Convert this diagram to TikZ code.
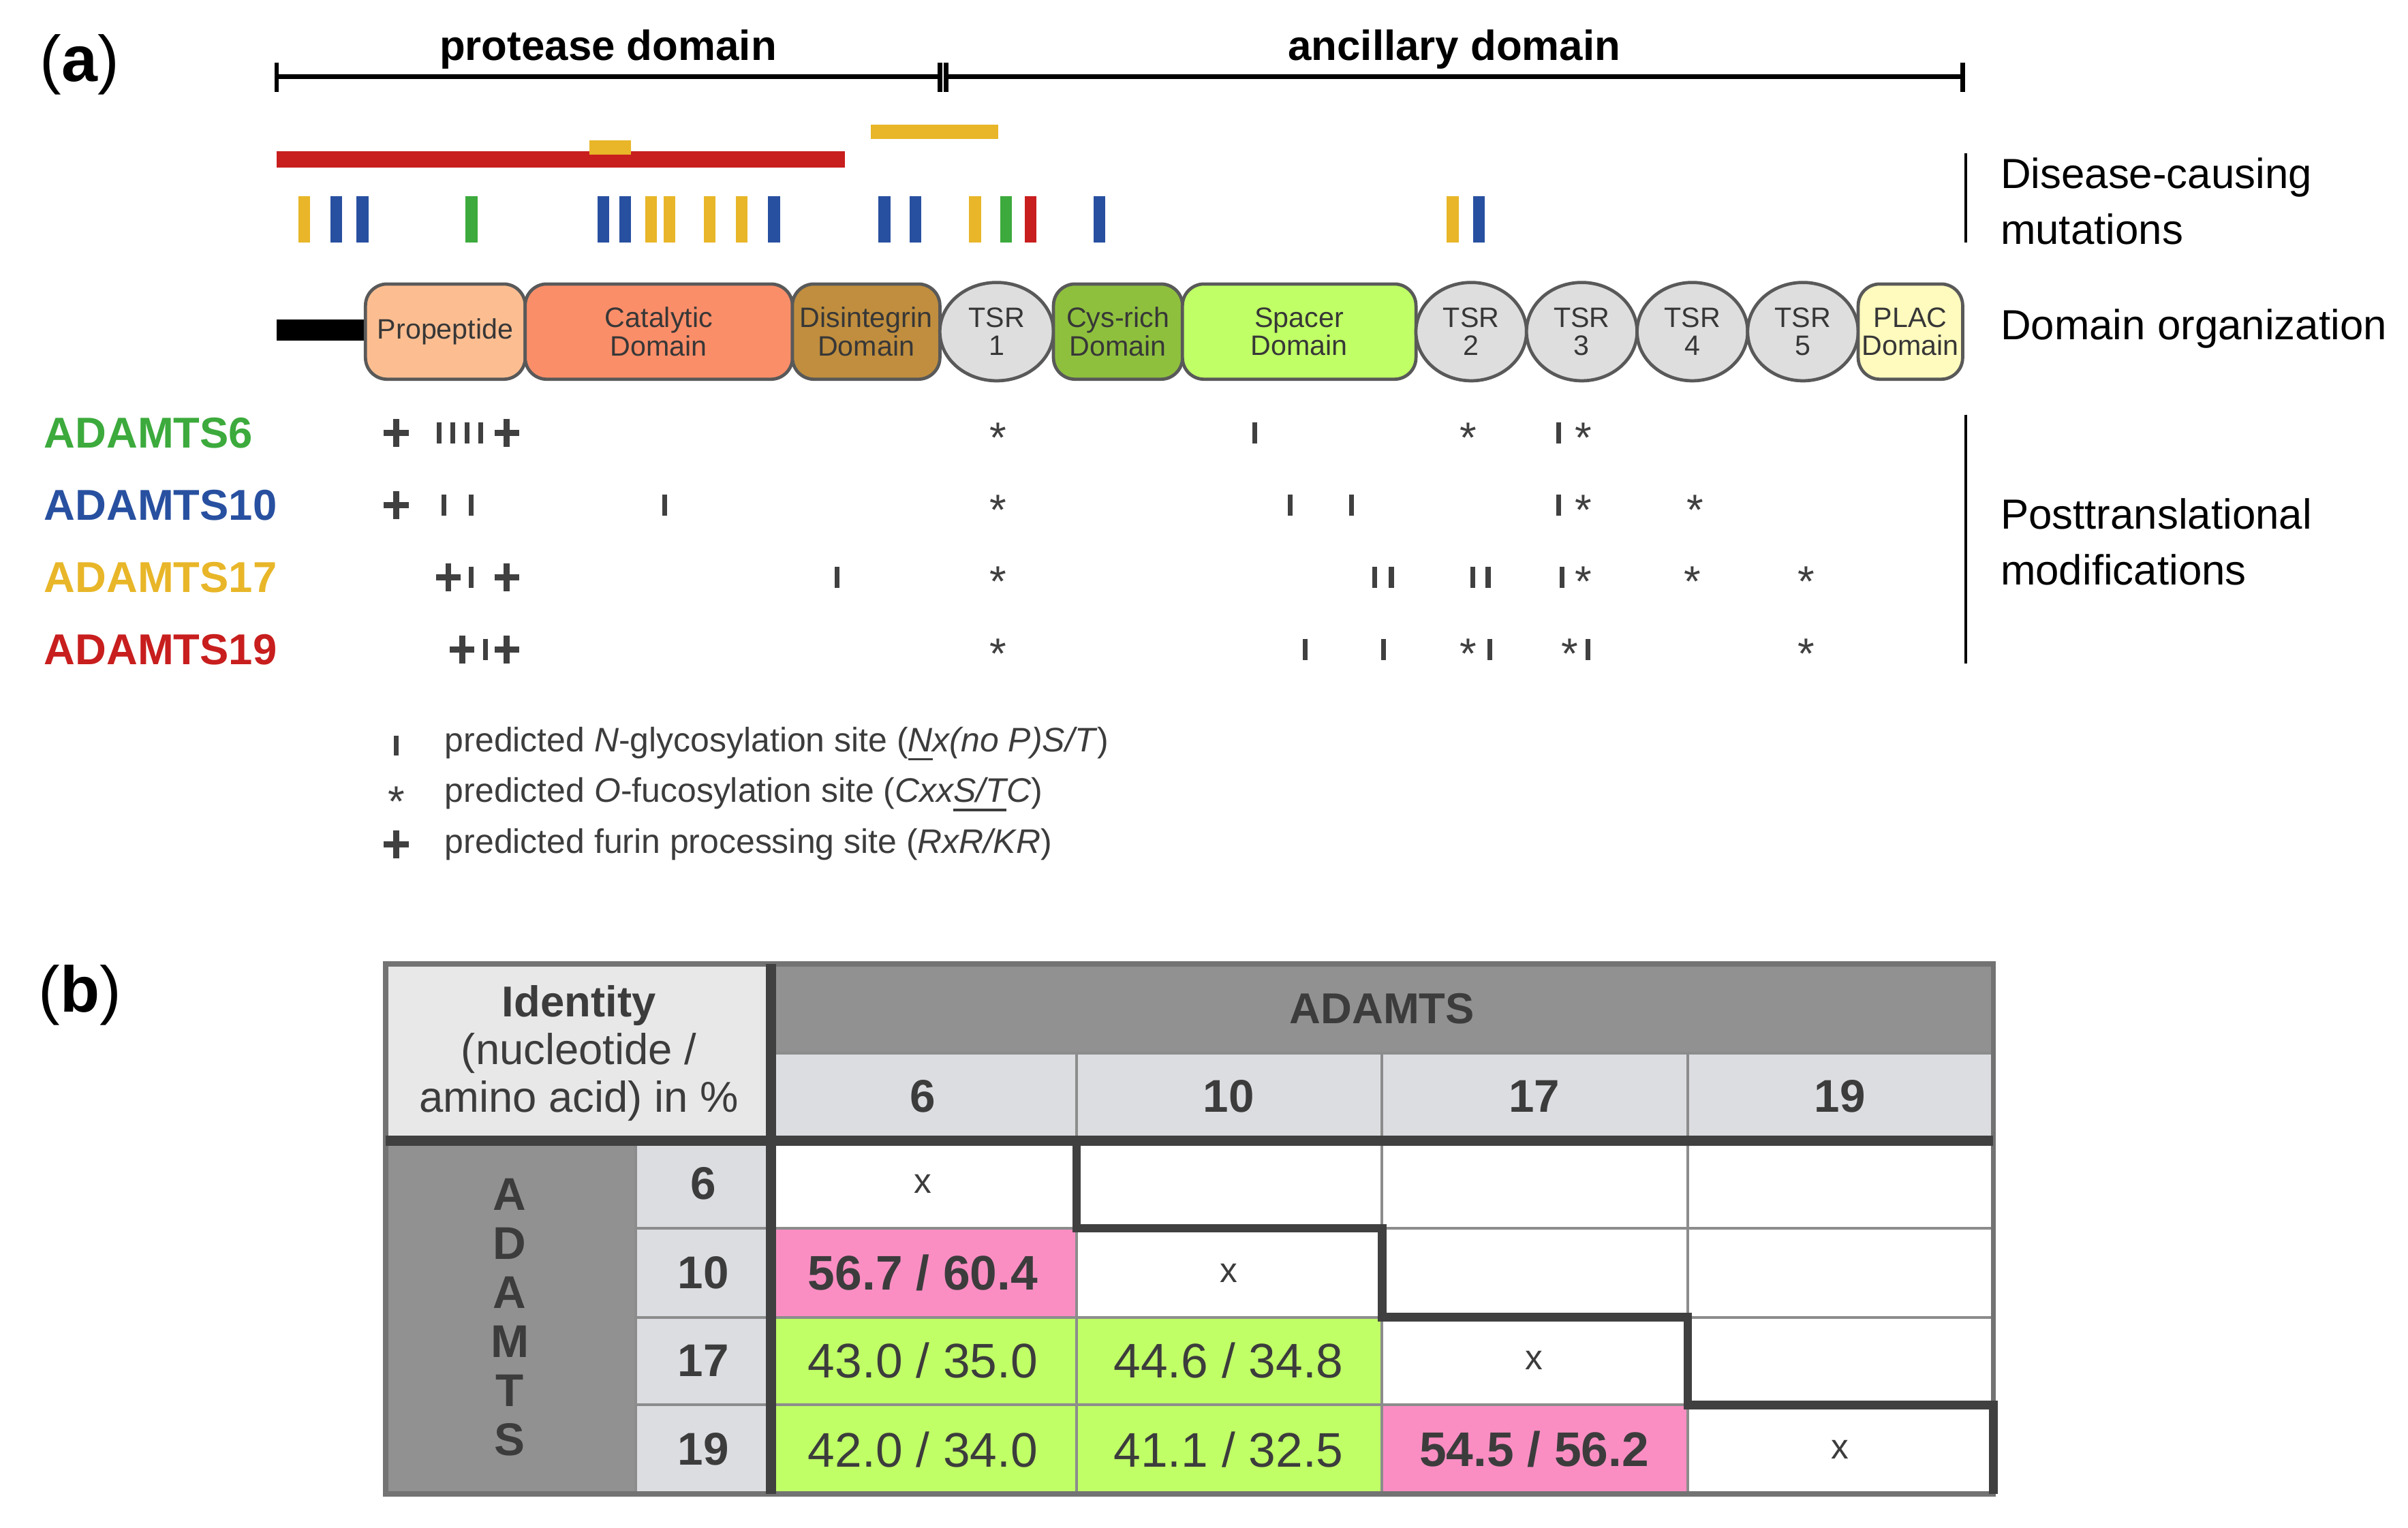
\documentclass[tikz,border=0pt]{standalone}
\usepackage{fontspec}
\setmainfont{Liberation Sans}
\usetikzlibrary{shapes.geometric}
\definecolor{tgray}{RGB}{55,55,55}
\definecolor{mY}{RGB}{232,182,40}
\definecolor{mB}{RGB}{40,80,160}
\definecolor{mG}{RGB}{60,170,60}
\definecolor{mR}{RGB}{200,30,30}
\definecolor{cProp}{RGB}{252,190,145}
\definecolor{cCat}{RGB}{250,142,105}
\definecolor{cDis}{RGB}{192,142,62}
\definecolor{cTSR}{RGB}{222,222,222}
\definecolor{cCys}{RGB}{142,192,62}
\definecolor{cSpa}{RGB}{192,255,102}
\definecolor{cPlac}{RGB}{255,250,190}
\definecolor{cPink}{RGB}{250,142,195}
\definecolor{cDark}{RGB}{145,145,145}
\definecolor{cLight}{RGB}{220,221,225}
\definecolor{cTop}{RGB}{232,232,232}
\definecolor{ttxt}{RGB}{60,60,60}
\newcommand{\fs}[1]{\fontsize{#1}{#1}\selectfont}
\tikzset{
 dom/.style={draw=black!65, line width=0.6pt, rounded corners=4pt, inner sep=0pt, align=center, text=tgray, font=\fs{5.2}, minimum height=0.62cm},
 tsr/.style={draw=black!65, line width=0.6pt, ellipse, inner sep=0pt, align=center, text=tgray, font=\fs{5.2}, minimum height=0.64cm, minimum width=0.74cm, fill=cTSR},
 mut/.style={line width=2.2pt},
 tk/.style={line width=0.9pt, black!75},
 ast/.style={inner sep=0pt, font=\fs{8}, text=black!75},
 lab/.style={anchor=west, inner sep=0pt, font=\fs{7.8}},
 gname/.style={anchor=west, inner sep=0pt, font=\fs{8}\bfseries},
 leg/.style={anchor=west, inner sep=0pt, font=\fs{6.3}, text=ttxt},
 cell/.style={inner sep=0pt, text=ttxt, align=center},
}
\begin{document}
\begin{tikzpicture}[x=0.01cm,y=-0.01cm]
\useasboundingbox (0,0) rectangle (1568,995);
\node[inner sep=0pt, font=\fs{12}] (la) at (52,42) {(\textbf{a})};
\node[inner sep=0pt, font=\fs{12}] (lb) at (52,648) {(\textbf{b})};
\draw[line width=0.8pt] (180,50) -- (612,50) (180,41) -- (180,60) (612,41) -- (612,60);
\draw[line width=0.8pt] (616,50) -- (1278,50) (616,41) -- (616,60) (1278,41) -- (1278,60);
\node[inner sep=0pt, font=\fs{7.8}\bfseries] (pd) at (396,32) {protease domain};
\node[inner sep=0pt, font=\fs{7.8}\bfseries] (ad) at (947,32) {ancillary domain};
\draw[mR, line width=3pt] (180,104) -- (550,104);
\draw[mY, line width=2.6pt] (384,96) -- (411,96);
\draw[mY, line width=2.6pt] (567,86) -- (650,86);
\foreach \x/\c in {198/mY,219/mB,236/mB,307/mG,393/mB,407/mB,424/mY,436/mY,462/mY,483/mY,504/mB,576/mB,596/mB,635/mY,655/mG,671/mR,716/mB,946/mY,963/mB}
  \draw[mut,\c] (\x,128) -- (\x,158);
\draw[line width=4pt] (180,215) -- (238,215);
\node[dom, fill=cProp, minimum width=1.04cm] (prop) at (290,216) {Propeptide};
\node[dom, fill=cCat, minimum width=1.74cm] (cat) at (429,216) {Catalytic\\Domain};
\node[dom, fill=cDis, minimum width=0.96cm] (dis) at (564,216) {Disintegrin\\Domain};
\node[tsr] (t1) at (649,216) {TSR\\1};
\node[dom, fill=cCys, minimum width=0.84cm] (cys) at (728,216) {Cys-rich\\Domain};
\node[dom, fill=cSpa, minimum width=1.52cm] (spa) at (846,216) {Spacer\\Domain};
\node[tsr, minimum width=0.72cm] (t2) at (958,216) {TSR\\2};
\node[tsr, minimum width=0.72cm] (t3) at (1030,216) {TSR\\3};
\node[tsr, minimum width=0.72cm] (t4) at (1102,216) {TSR\\4};
\node[tsr, minimum width=0.72cm] (t5) at (1174,216) {TSR\\5};
\node[dom, fill=cPlac, minimum width=0.68cm] (plac) at (1244,216) {PLAC\\Domain};
\draw[line width=0.6pt] (1280,100) -- (1280,158);
\draw[line width=0.6pt] (1280,270) -- (1280,432);
\node[lab, align=left] (dcm) at (1302,131) {Disease-causing\\[2.5pt]mutations};
\node[lab] (dorg) at (1302,214) {Domain organization};
\node[lab, align=left] (ptm) at (1302,353) {Posttranslational\\[2.5pt]modifications};
\node[gname, text=mG] (g6) at (28,282) {ADAMTS6};
\node[gname, text=mB] (g10) at (28,329) {ADAMTS10};
\node[gname, text=mY] (g17) at (28,376) {ADAMTS17};
\node[gname, text=mR] (g19) at (28,423) {ADAMTS19};
\foreach \y/\pl/\tl/\al in {
 282/{258,330}/{286,295,304,313,817,1015}/{650,956,1031},
 329/{258}/{289,307,433,840,880,1015}/{650,1031,1104},
 376/{292,330}/{307,545,895,906,959,969,1017}/{650,1031,1102,1176},
 423/{301,330}/{316,850,901,970,1034}/{650,956,1022,1176}}{
  \foreach \x in \pl {\draw[tk, line width=1.1pt] (\x-8,\y) -- (\x+8,\y) (\x,\y-9) -- (\x,\y+9);}
  \foreach \x in \tl {\draw[tk] (\x,\y-7) -- (\x,\y+7);}
  \foreach \x in \al {\node[ast] at (\x,\y+3) {*};}
}
\draw[tk] (258,479) -- (258,492);
\node[ast] (la1) at (258,522) {*};
\draw[tk, line width=1.1pt] (250,550) -- (266,550) (258,541) -- (258,559);
\node[leg] (l1) at (289,485) {predicted \textit{N}-glycosylation site (\textit{\underline{N}x(no P)S/T})};
\node[leg] (l2) at (289,518) {predicted \textit{O}-fucosylation site (\textit{Cxx\underline{S/T}C})};
\node[leg] (l3) at (289,550) {predicted furin processing site (\textit{RxR/KR})};
\fill[cTop] (251,628) rectangle (502,743);
\fill[cDark] (502,628) rectangle (1298,686);
\fill[cLight] (502,686) rectangle (1298,743);
\fill[cDark] (251,743) rectangle (414,973);
\fill[cLight] (414,743) rectangle (502,973);
\fill[cPink] (502,800) rectangle (701,858);
\fill[cSpa] (502,858) rectangle (900,973);
\fill[cPink] (900,915) rectangle (1099,973);
\draw[black!45, line width=0.5pt]
  (502,686) -- (1298,686)
  (701,686) -- (701,973) (900,686) -- (900,973) (1099,686) -- (1099,973)
  (414,800) -- (1298,800) (414,858) -- (1298,858) (414,915) -- (1298,915)
  (414,743) -- (414,973);
\draw[black!55, line width=1pt] (251,628) rectangle (1298,973);
\draw[black!75, line width=1.8pt] (251,743) -- (1298,743) (502,628) -- (502,973);
\draw[black!75, line width=1.6pt] (701,743) -- (701,800) -- (900,800) -- (900,858) -- (1099,858) -- (1099,915) -- (1298,915) -- (1298,973);
\node[cell, font=\fs{8}] (id) at (377,686) {\textbf{Identity}\\[0.8pt](nucleotide /\\[0.8pt]amino acid) in \%};
\node[cell, font=\fs{8}\bfseries] (adh) at (900,657) {ADAMTS};
\node[cell, font=\fs{8.5}\bfseries, align=center] (adv) at (332,858) {A\\[0.6pt]D\\[0.6pt]A\\[0.6pt]M\\[0.6pt]T\\[0.6pt]S};
\foreach \x/\t in {601/6,800/10,999/17,1198/19} \node[cell, font=\fs{8.5}\bfseries] at (\x,714) {\t};
\foreach \y/\t in {771/6,829/10,886/17,944/19} \node[cell, font=\fs{8.5}\bfseries] at (458,\y) {\t};
\foreach \x/\y in {601/771,800/829,999/886,1198/944} \node[cell, font=\fs{6.5}] at (\x,\y) {x};
\node[cell, font=\fs{9}\bfseries] at (601,829) {56.7 / 60.4};
\node[cell, font=\fs{9}] at (601,886) {43.0 / 35.0};
\node[cell, font=\fs{9}] at (800,886) {44.6 / 34.8};
\node[cell, font=\fs{9}] at (601,944) {42.0 / 34.0};
\node[cell, font=\fs{9}] at (800,944) {41.1 / 32.5};
\node[cell, font=\fs{9}\bfseries] at (999,944) {54.5 / 56.2};
\end{tikzpicture}
\end{document}
